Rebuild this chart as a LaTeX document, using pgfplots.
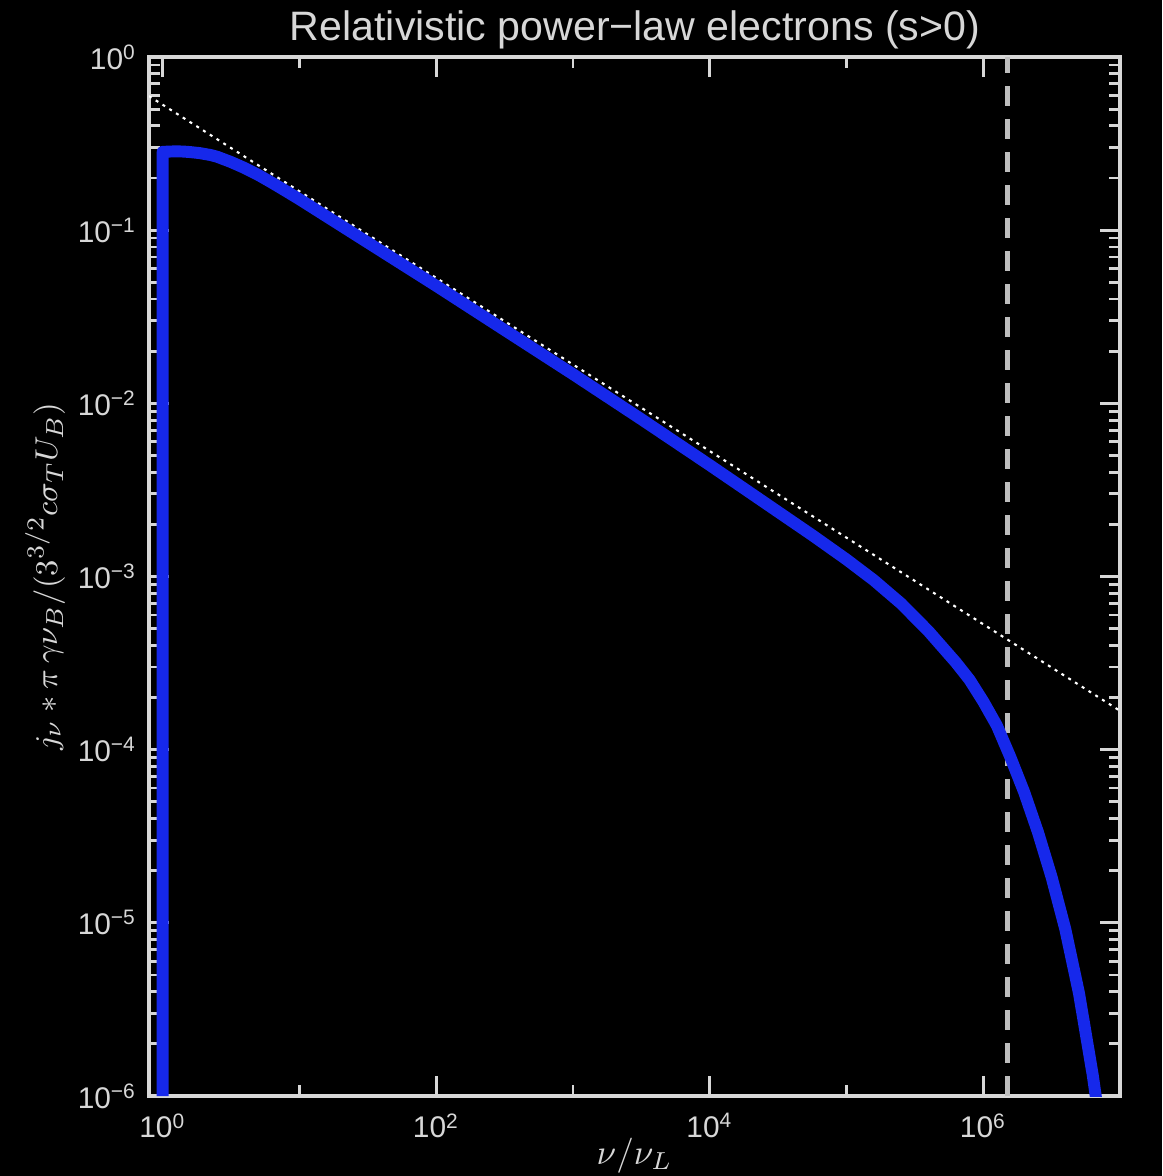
\documentclass[border=0pt]{standalone}
\usepackage{fontspec}
\setmainfont{Liberation Sans}
\usepackage{pgfplots}
\pgfplotsset{compat=1.18}
\definecolor{fg}{RGB}{215,215,215}
\definecolor{curve}{RGB}{22,40,235}
\definecolor{dashc}{RGB}{190,190,190}
\begin{document}
\begin{tikzpicture}[x=1cm,y=1cm]
\fill[black] (0,0) rectangle (11.62,11.76);
\useasboundingbox (0,0) rectangle (11.62,11.76);
\begin{axis}[
  at={(1.49cm,0.80cm)}, anchor=south west,
  scale only axis, width=9.71cm, height=10.39cm,
  xmode=log, ymode=log,
  xmin=0.7943, xmax=1e7, ymin=1e-6, ymax=1,
  axis line style={fg, line width=0.9pt},
  every tick/.style={fg, line width=0.8pt},
  tick align=inside,
  major tick length=0.2cm, minor tick length=0.11cm,
  xtick={1,100,10000,1000000},
  xticklabels={10\textsuperscript{0},10\textsuperscript{2},10\textsuperscript{4},10\textsuperscript{6}},
  minor xtick={10,1000,100000,10000000},
  ytick={1e-6,1e-5,1e-4,1e-3,1e-2,1e-1,1},
  yticklabels={10\textsuperscript{−6},10\textsuperscript{−5},10\textsuperscript{−4},10\textsuperscript{−3},10\textsuperscript{−2},10\textsuperscript{−1},10\textsuperscript{0}},
  tick label style={font=\fontsize{8.5}{10}\selectfont, text=fg},
  xticklabel style={yshift=-0.05cm},
  ylabel={$j_\nu \ast \pi\,\gamma\nu_B/(3^{3/2}c\sigma_T U_B)$},
  ylabel style={at={(axis description cs:-0.107,0.5)}, anchor=center, text=fg, font=\fontsize{9.5}{11}\selectfont},
  xlabel={$\nu/\nu_L$},
  xlabel style={at={(axis description cs:0.5,-0.057)}, anchor=center, text=fg, font=\fontsize{10}{12}\selectfont},
]
\addplot[dashc, line width=1.4pt, dash pattern=on 0.2cm off 0.13cm] coordinates {(1.5e6,1e-6) (1.5e6,1)};
\addplot[white, line width=0.6pt, dash pattern=on 0.03cm off 0.05cm] coordinates {(0.7943,0.5947) (1e7,1.676e-4)};
\addplot[curve, line width=3.4pt, line join=round] coordinates {
(1,1e-6) (1,0.2831) (1.122,0.2844) (1.259,0.2851) (1.413,0.2844) (1.585,0.2825)
(1.862,0.2786) (2.239,0.2716) (2.512,0.2651) (3.162,0.2474) (3.981,0.2283)
(5.012,0.2082) (6.310,0.1877) (7.943,0.1684) (10,0.1508) (31.62,0.0848)
(100,0.0477) (316.2,0.02651) (1000,0.01474) (3162,0.008096) (10000,0.004397)
(17783,0.003224) (31623,0.002362) (56234,0.001731) (1e5,0.001254)
(1.585e5,9.515e-4) (2.512e5,6.970e-4) (3.981e5,4.825e-4) (6.310e5,3.187e-4)
(7.943e5,2.531e-4) (1e6,1.898e-4) (1.259e6,1.375e-4) (1.585e6,8.98e-5)
(1.995e6,5.666e-5) (2.512e6,3.337e-5) (3.162e6,1.834e-5) (3.981e6,9.19e-6)
(5.012e6,3.92e-6) (6.310e6,1.328e-6) (7.079e6,7.05e-7)
};
\end{axis}
\node[text=fg, font=\fontsize{11.7}{13}\selectfont] at (6.35,11.46) {Relativistic power−law electrons (s>0)};
\end{tikzpicture}
\end{document}
